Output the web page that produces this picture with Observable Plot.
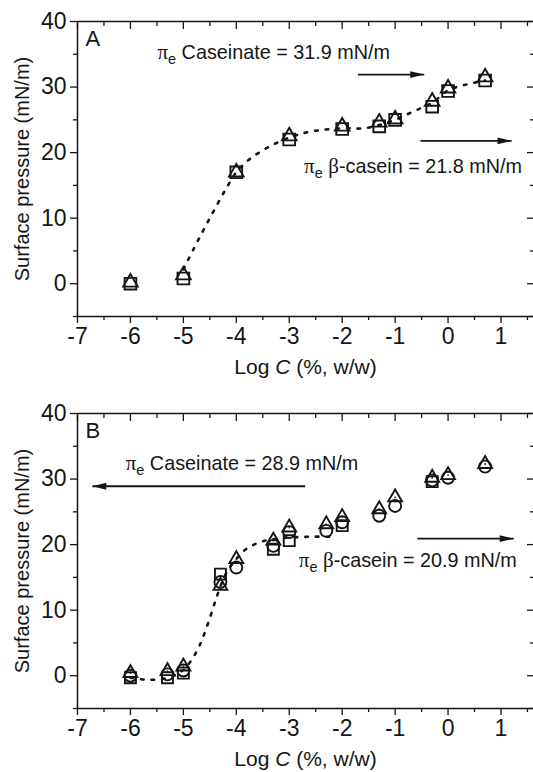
<!DOCTYPE html>
<html><head><meta charset="utf-8">
<script src="https://cdn.jsdelivr.net/npm/d3@7"></script>
<script src="https://cdn.jsdelivr.net/npm/@observablehq/plot@0.6"></script>
<style>
body{margin:0;background:#fff;}
#chart{width:533px;}
#chart svg{display:block;}
</style></head><body><div id="chart"></div>
<script>
// ---- ticks ----
const xMajor = [-7, -6, -5, -4, -3, -2, -1, 0, 1];
const xMinor = [-6.5, -5.5, -4.5, -3.5, -2.5, -1.5, -0.5, 0.5, 1.5];
const yMajor = [0, 10, 20, 30, 40];
const yMinor = [-5, 5, 15, 25, 35];

// ---- panel A ----
const logCA = [-6, -5, -4, -3, -2, -1.3, -1, -0.3, 0, 0.7];
const squaresA = [0, 0.8, 17, 22, 23.6, 24, 25, 27, 29.4, 31];
const trianglesA = [0.2, 1.3, 17, 22.5, 24, 24.6, 25.1, 27.8, 29.8, 31.5];
const fitXA = [-5, -4.8, -4.6, -4.4, -4.2, -4, -3.75, -3.4, -3, -2.6, -2, -1.6, -1.3, -1, -0.65, -0.3, 0, 0.35, 0.7];
const fitYA = [2.2, 5.4, 8.5, 11.5, 14.4, 17, 19, 20.8, 22.3, 23.2, 23.7, 23.7, 24.2, 25, 26.3, 27.6, 29.5, 30.4, 31];
const piA = [31.9, 21.8];

// ---- panel B ----
const logCB = [-6, -5.3, -5, -4.3, -4, -3.3, -3, -2.3, -2, -1.3, -1, -0.3, 0, 0.7];
const squareXB = [-6, -5.3, -5, -4.3, -3.3, -3, -2, -0.3];
const squaresB = [-0.3, -0.3, 0.4, 15.5, 19.3, 20.6, 22.9, 29.6];
const circlesB = [0, 0.2, 0.8, 14.3, 16.5, 19.8, 21.9, 22.1, 23.4, 24.4, 25.9, 29.8, 30.2, 31.9];
const trianglesB = [0.4, 0.7, 1.4, 13.7, 17.8, 20.6, 22.6, 23.1, 24.2, 25.4, 27.2, 30.2, 30.6, 32.3];
const fitXB = [-6, -5.7, -5.4, -5.1, -4.9, -4.7, -4.5, -4.35, -4.2, -4, -3.8, -3.5, -3.1, -2.6, -2.2];
const fitYB = [-0.3, -0.6, -0.5, 0.3, 1.8, 4.5, 8.8, 12.5, 15.5, 17.8, 19.4, 20.5, 21, 21.2, 21.2];
const piB = [28.9, 20.9];

const noteLabels = ["πe Caseinate = ", "πe β-casein = "];

const INK = "#151515";
const FONT = "'Liberation Sans', Arial, Helvetica, sans-serif";
const SERIF = "'Liberation Serif', 'Times New Roman', serif";

const arrowHead = {
  draw(ctx) {
    const L = 14, W = 3.4;
    ctx.moveTo(0, 0);
    ctx.lineTo(-L, -W);
    ctx.lineTo(-L, W);
    ctx.closePath();
  }
};

const pts = (xs, ys) => xs.map((x, i) => ({x, y: ys[i]}));

function panel(cfg) {
  const tick = {stroke: INK, strokeWidth: 1.3, label: null};
  const marks = [
    Plot.ruleY([40], {stroke: INK, strokeWidth: 1.5}),
    Plot.ruleY([-5], {stroke: INK, strokeWidth: 1.5}),
    Plot.ruleX([-7], {stroke: INK, strokeWidth: 1.5}),
    Plot.axisX({...tick, ticks: xMajor, anchor: "bottom", tickSize: 7, tickPadding: 4, tickFormat: d => String(d), fontSize: 23, fill: INK}),
    Plot.axisX({...tick, ticks: xMinor, anchor: "bottom", tickSize: 4, text: null}),
    Plot.axisX({...tick, ticks: xMajor, anchor: "top", tickSize: -7, text: null}),
    Plot.axisX({...tick, ticks: xMinor, anchor: "top", tickSize: -4, text: null}),
    Plot.axisY({...tick, ticks: yMajor, anchor: "left", tickSize: 7, tickPadding: 4, tickFormat: d => String(d), fontSize: 23, fill: INK}),
    Plot.axisY({...tick, ticks: yMinor, anchor: "left", tickSize: 4, text: null}),
    Plot.axisY({...tick, ticks: yMajor, anchor: "right", tickSize: -7, text: null}),
    Plot.axisY({...tick, ticks: yMinor, anchor: "right", tickSize: -4, text: null}),
    Plot.text(["Surface pressure (mN/m)"], {text: d => d, frameAnchor: "left", rotate: -90, dx: -55, textAnchor: "middle", lineAnchor: "middle", fontSize: 20, fill: INK}),
    Plot.text(["Log C (%, w/w)"], {text: d => d, frameAnchor: "bottom", dy: 57, textAnchor: "middle", lineAnchor: "bottom", fontSize: 21, fill: INK, ariaDescription: "xtitle"}),
    Plot.text([cfg.letter], {text: d => d, frameAnchor: "top-left", dx: 8, dy: 9, textAnchor: "start", lineAnchor: "top", fontSize: 22, fill: INK}),
    Plot.line(pts(cfg.fitX, cfg.fitY), {x: "x", y: "y", curve: "catmull-rom", stroke: INK, strokeWidth: 2.6, strokeDasharray: "2.6,8"}),
    Plot.link(cfg.arrows, {x1: "x1", x2: "x2", y1: "y", y2: "y", stroke: INK, strokeWidth: 1.8}),
    Plot.dot(cfg.arrows, {x: "x2", y: "y", symbol: arrowHead, r: 4, fill: INK, stroke: "none", rotate: d => d.x2 > d.x1 ? 0 : 180}),
    Plot.text(cfg.notes, {x: "x", y: "y", text: "t", textAnchor: "start", lineAnchor: "middle", fontSize: 19.8, fill: INK, ariaDescription: "note"})
  ];
  for (const s of cfg.series) {
    marks.push(Plot.dot(s.data, {x: "x", y: "y", symbol: s.symbol, r: s.r, stroke: INK, strokeWidth: 1.9, fill: "none"}));
    if (s.centerDot) marks.push(Plot.dot(s.data, {x: "x", y: "y", r: 0.9, fill: INK, stroke: "none"}));
  }
  const svg = Plot.plot({
    width: 533,
    height: cfg.height,
    marginTop: cfg.marginTop,
    marginBottom: cfg.marginBottom,
    marginLeft: 77,
    marginRight: 0,
    x: {domain: [-7, 1.614]},
    y: {domain: [-5, 40]},
    style: {fontFamily: FONT, fontSize: "20px", color: INK, background: "#fff", overflow: "visible"},
    marks
  });
  const root = d3.select(svg);
  root.selectAll('g[aria-label*="tick label"] text').attr("font-size", 23).style("font-size", "23px");
  root.selectAll('g[aria-description="note"] text').each(function () {
    const s = this.textContent;
    const rest = s.slice(2);
    const t = d3.select(this).text(null);
    t.append("tspan").attr("font-family", SERIF).attr("font-size", 21).text("π");
    t.append("tspan").attr("font-size", 14.5).attr("dy", 5).text("e");
    const parts = rest.split("β");
    t.append("tspan").attr("dy", -5).text(parts[0]);
    if (parts.length > 1) {
      t.append("tspan").attr("font-family", SERIF).attr("font-size", 21).text("β");
      t.append("tspan").text(parts[1]);
    }
  });
  root.selectAll('g[aria-description="xtitle"] text').each(function () {
    const t = d3.select(this).text(null);
    t.append("tspan").text("Log ");
    t.append("tspan").attr("font-style", "italic").text("C");
    t.append("tspan").text(" (%, w/w)");
  });
  return svg;
}

const chart = document.getElementById("chart");

chart.appendChild(panel({
  letter: "A",
  height: 385, marginTop: 21, marginBottom: 69,
  fitX: fitXA, fitY: fitYA,
  arrows: [{x1: -1.7, x2: -0.45, y: piA[0]}, {x1: -0.52, x2: 1.2, y: piA[1]}],
  notes: [{x: -5.49, y: 35.2, t: noteLabels[0] + piA[0] + " mN/m"}, {x: -2.72, y: 17.8, t: noteLabels[1] + piA[1] + " mN/m"}],
  series: [
    {data: pts(logCA, squaresA), symbol: "square", r: 6.6},
    {data: pts(logCA, trianglesA), symbol: "triangle", r: 5.4}
  ]
}));

chart.appendChild(panel({
  letter: "B",
  height: 387, marginTop: 28, marginBottom: 64,
  fitX: fitXB, fitY: fitYB,
  arrows: [{x1: -2.7, x2: -6.72, y: piB[0]}, {x1: -0.58, x2: 1.24, y: piB[1]}],
  notes: [{x: -6.09, y: 32.4, t: noteLabels[0] + piB[0] + " mN/m"}, {x: -2.82, y: 17.5, t: noteLabels[1] + piB[1] + " mN/m"}],
  series: [
    {data: pts(squareXB, squaresB), symbol: "square", r: 6.2},
    {data: pts(logCB, circlesB), symbol: "circle", r: 6},
    {data: pts(logCB, trianglesB), symbol: "triangle", r: 5.1, centerDot: true}
  ]
}));
</script>
</body></html>
